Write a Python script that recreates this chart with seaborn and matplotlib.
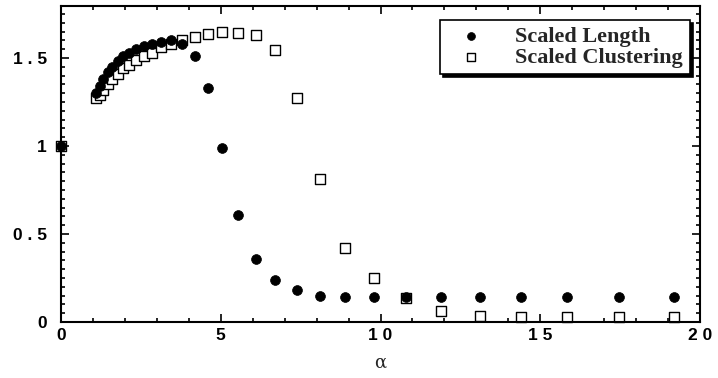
import matplotlib
matplotlib.use("Agg")
import matplotlib.pyplot as plt
import seaborn as sns
import pandas as pd
from matplotlib.ticker import MultipleLocator

# ---- data ----
alpha = [0.0, 1.10, 1.21, 1.33, 1.46, 1.61, 1.77, 1.95, 2.14, 2.36, 2.59, 2.85, 3.14, 3.45,
         3.80, 4.18, 4.59, 5.05, 5.55, 6.10, 6.70, 7.40, 8.10, 8.90, 9.80, 10.80, 11.90,
         13.10, 14.40, 15.85, 17.45, 19.20]
scaled_length = [1.00, 1.30, 1.34, 1.38, 1.42, 1.45, 1.48, 1.51, 1.53, 1.55, 1.57, 1.58, 1.59, 1.60,
                 1.58, 1.51, 1.33, 0.99, 0.61, 0.36, 0.24, 0.18, 0.15, 0.14, 0.14, 0.14, 0.14,
                 0.14, 0.14, 0.14, 0.14, 0.14]
scaled_clustering = [1.00, 1.27, 1.29, 1.32, 1.35, 1.38, 1.41, 1.44, 1.46, 1.49, 1.51, 1.53, 1.56, 1.58,
                     1.60, 1.62, 1.635, 1.645, 1.64, 1.63, 1.545, 1.27, 0.81, 0.42, 0.25, 0.135, 0.06,
                     0.035, 0.03, 0.027, 0.027, 0.027]
series_names = ["Scaled Length", "Scaled Clustering"]
x_ticks = [0, 5, 10, 15, 20]
x_ticklabels = ["0", "5", "1 0", "1 5", "2 0"]
y_ticks = [0, 0.5, 1, 1.5]
y_ticklabels = ["0", "0 . 5", "1", "1 . 5"]
x_label = "α"

df = pd.DataFrame({"alpha": alpha, "len": scaled_length, "clu": scaled_clustering})

sns.set_style("ticks")
fig = plt.figure(figsize=(7.18, 3.78), dpi=100)
ax = fig.add_axes([61/718, 56/378, 639/718, 316/378])

sns.scatterplot(data=df, x="alpha", y="clu", ax=ax, marker="s", s=45,
                facecolors="white", edgecolor="black", linewidth=1.0,
                label=series_names[1], zorder=2, clip_on=False)
sns.scatterplot(data=df, x="alpha", y="len", ax=ax, marker="o", s=50,
                color="black", edgecolor="black", linewidth=0.5,
                label=series_names[0], zorder=3, clip_on=False)

ax.set_xlim(0, 20)
ax.set_ylim(0, 1.795)
ax.set_xticks(x_ticks)
ax.set_xticklabels(x_ticklabels)
ax.set_yticks(y_ticks)
ax.set_yticklabels(y_ticklabels)
ax.xaxis.set_minor_locator(MultipleLocator(1))
ax.yaxis.set_minor_locator(MultipleLocator(0.05))
ax.tick_params(which="both", direction="in", top=True, right=True, width=1.2, colors="black")
ax.tick_params(which="major", length=6)
ax.tick_params(which="minor", length=3)
ax.tick_params(axis="x", which="major", labelsize=12.5, pad=4)
ax.tick_params(axis="y", which="major", labelsize=12.5, pad=10)
for lab in ax.get_xticklabels() + ax.get_yticklabels():
    lab.set_fontfamily("Liberation Sans")
    lab.set_fontweight("bold")
for sp in ax.spines.values():
    sp.set_linewidth(1.5)
    sp.set_color("black")

ax.set_xlabel(x_label, fontsize=13, family="DejaVu Serif", labelpad=8)
ax.set_ylabel("")

handles, labels = ax.get_legend_handles_labels()
order = [labels.index(series_names[0]), labels.index(series_names[1])]
leg = ax.legend([handles[i] for i in order], [labels[i] for i in order],
                loc="upper right", bbox_to_anchor=(0.984, 0.956), borderaxespad=0,
                frameon=True, fancybox=False, edgecolor="black", framealpha=1,
                shadow={"color": "black", "alpha": 1}, handletextpad=0.9,
                prop={"family": "Liberation Serif", "weight": "bold", "size": 16},
                borderpad=0.3, labelspacing=0.0, markerscale=0.8, handlelength=2.2)
leg.get_frame().set_linewidth(1.2)

fig.savefig("out.png", dpi=100)
